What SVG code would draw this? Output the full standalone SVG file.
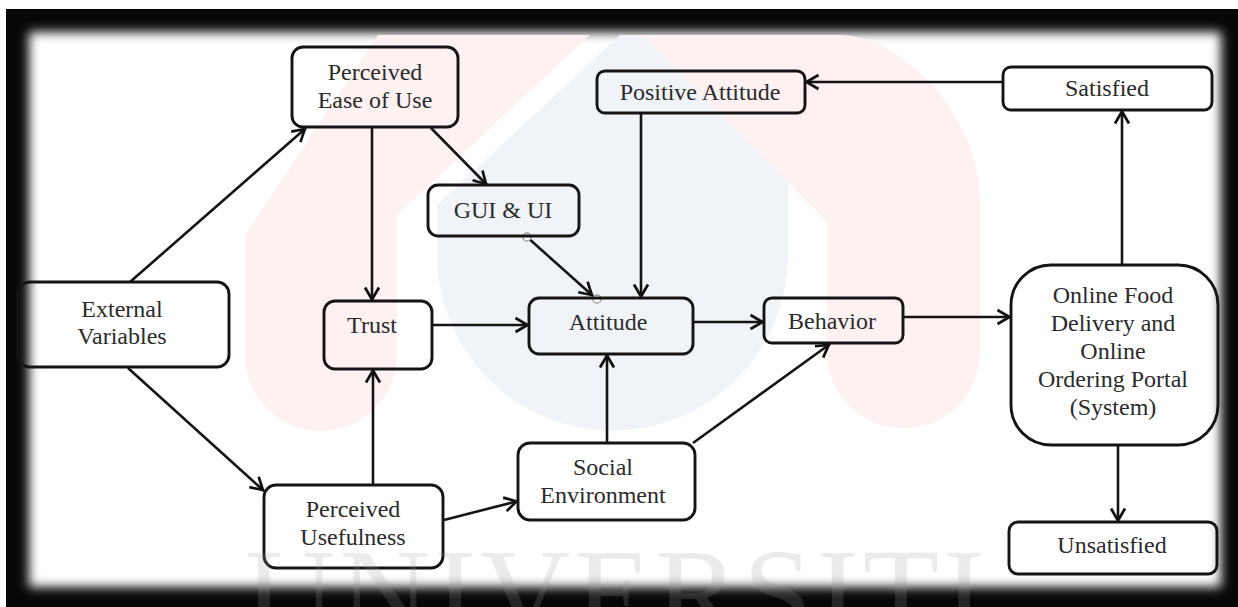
<svg xmlns="http://www.w3.org/2000/svg" width="1238" height="607" viewBox="0 0 1238 607">
  <defs>
    <filter id="soft" x="-5%" y="-5%" width="110%" height="110%">
      <feGaussianBlur stdDeviation="5.5"/>
    </filter>
    <marker id="arr" viewBox="-16 -9 18 18" refX="0" refY="0" markerWidth="18" markerHeight="18" markerUnits="userSpaceOnUse" orient="auto">
      <path d="M-13.5,-7 L-1.5,0 L-13.5,7" fill="none" stroke="#111" stroke-width="2.7"/>
    </marker>
  </defs>
  <style>
    .box { fill: none; stroke: #141414; stroke-width: 2.9; }
    .lbl { font-size: 24px; fill: #2b2b2b; text-anchor: middle; }
    .edge { fill: none; stroke: #141414; stroke-width: 2.6; marker-end: url(#arr); }
    .pin { fill: #ffffff; stroke: #9a9a9a; stroke-width: 1.3; }
  </style>

  <!-- background and frame -->
  <rect x="0" y="0" width="1238" height="607" fill="#ffffff"/>
  <rect x="6" y="9" width="1232" height="598" fill="#070707"/>
  <rect x="29" y="32" width="1192" height="555" fill="#ffffff" filter="url(#soft)"/>

  <!-- faint logo watermark -->
  <g id="watermark-logo">
    <path d="M437,205 L620,35 L788,35 L788,255 A175.5,175.5 0 0 1 437,255 Z" fill="#f0f4f8"/>
    <path d="M245,355 L245,235 L378,35 L590,35 L397,215 L397,355 A76,76 0 0 1 245,355 Z" fill="#fdf1f1"/>
    <path d="M642,35 L839,35 C905,35 980,120 980,200 L980,352 A76.5,76.5 0 0 1 827,352 L827,222 Z" fill="#fdf1f1"/>
  </g>

  <!-- connectors -->
  <g id="connectors">
    <line class="edge" x1="130" y1="282" x2="306" y2="128"/>
    <line class="edge" x1="128" y1="368" x2="264" y2="491"/>
    <line class="edge" x1="372" y1="128" x2="372" y2="301"/>
    <line class="edge" x1="431" y1="128" x2="487" y2="185"/>
    <line class="edge" x1="527" y1="237" x2="593" y2="296"/>
    <line class="edge" x1="432" y1="325" x2="529" y2="325"/>
    <line class="edge" x1="373" y1="485" x2="373" y2="369"/>
    <line class="edge" x1="444" y1="520" x2="518" y2="501"/>
    <line class="edge" x1="607" y1="443" x2="607" y2="354"/>
    <line class="edge" x1="693" y1="443" x2="830" y2="344"/>
    <line class="edge" x1="641" y1="113" x2="641" y2="298"/>
    <line class="edge" x1="693" y1="322" x2="764" y2="322"/>
    <line class="edge" x1="903" y1="317" x2="1011" y2="317"/>
    <line class="edge" x1="1122" y1="265" x2="1122" y2="110"/>
    <line class="edge" x1="1003" y1="82" x2="805" y2="82"/>
    <line class="edge" x1="1118" y1="445" x2="1118" y2="522"/>
    <circle class="pin" cx="527" cy="237" r="4"/>
    <circle class="pin" cx="597" cy="299" r="4"/>
  </g>

  <!-- nodes -->
  <g font-family="Liberation Serif, DejaVu Serif, serif">
  <g id="node-peou">
    <rect class="box" x="292" y="47" width="166" height="80" rx="11"/>
    <text class="lbl" x="375" y="80">Perceived</text>
    <text class="lbl" x="375" y="108">Ease of Use</text>
  </g>
  <g id="node-gui">
    <rect class="box" x="428" y="185" width="151" height="51" rx="10"/>
    <text class="lbl" x="503" y="218">GUI &amp; UI</text>
  </g>
  <g id="node-positive-attitude">
    <rect class="box" x="597" y="71" width="208" height="42" rx="8"/>
    <text class="lbl" x="700" y="100">Positive Attitude</text>
  </g>
  <g id="node-satisfied">
    <rect class="box" x="1003" y="67" width="209" height="43" rx="8"/>
    <text class="lbl" x="1107" y="96">Satisfied</text>
  </g>
  <g id="node-external">
    <rect class="box" x="18" y="282" width="211" height="85" rx="12"/>
    <text class="lbl" x="122" y="317">External</text>
    <text class="lbl" x="122" y="344">Variables</text>
  </g>
  <g id="node-trust">
    <rect class="box" x="324" y="301" width="108" height="68" rx="11"/>
    <text class="lbl" x="372" y="333">Trust</text>
  </g>
  <g id="node-attitude">
    <rect class="box" x="529" y="298" width="164" height="56" rx="10"/>
    <text class="lbl" x="608" y="330">Attitude</text>
  </g>
  <g id="node-behavior">
    <rect class="box" x="764" y="298" width="139" height="45" rx="8"/>
    <text class="lbl" x="832" y="329">Behavior</text>
  </g>
  <g id="node-system">
    <rect class="box" x="1011" y="265" width="207" height="180" rx="40"/>
    <text class="lbl" x="1113" y="303">Online Food</text>
    <text class="lbl" x="1113" y="331">Delivery and</text>
    <text class="lbl" x="1113" y="359">Online</text>
    <text class="lbl" x="1113" y="387">Ordering Portal</text>
    <text class="lbl" x="1113" y="415">(System)</text>
  </g>
  <g id="node-pu">
    <rect class="box" x="264" y="485" width="179" height="83" rx="12"/>
    <text class="lbl" x="353" y="517">Perceived</text>
    <text class="lbl" x="353" y="545">Usefulness</text>
  </g>
  <g id="node-social">
    <rect class="box" x="518" y="443" width="177" height="77" rx="12"/>
    <text class="lbl" x="603" y="475">Social</text>
    <text class="lbl" x="603" y="503">Environment</text>
  </g>
  <g id="node-unsatisfied">
    <rect class="box" x="1009" y="522" width="208" height="52" rx="9"/>
    <text class="lbl" x="1112" y="553">Unsatisfied</text>
  </g>
  </g>

  <!-- faint watermark word -->
  <text x="245" y="635" font-family="Liberation Serif, serif" font-size="125" fill="#9a9a9a" fill-opacity="0.2" textLength="740" lengthAdjust="spacing">UNIVERSITI</text>
</svg>
